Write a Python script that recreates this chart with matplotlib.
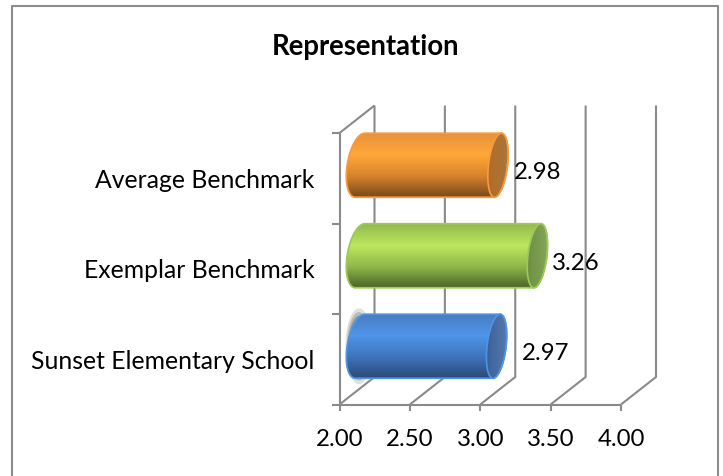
import numpy as np
import matplotlib
matplotlib.use("Agg")
import matplotlib.pyplot as plt
from matplotlib.colors import LinearSegmentedColormap
from matplotlib.patches import PathPatch, Ellipse
from matplotlib.path import Path
from matplotlib.lines import Line2D

categories = ["Sunset Elementary School", "Exemplar Benchmark", "Average Benchmark"]
values = [2.97, 3.26, 2.98]
x_ticks = [2.0, 2.5, 3.0, 3.5, 4.0]
y_edges = [-0.5, 0.5, 1.5, 2.5]
title = "Representation"
label_offsets_px = [(46, 6), (35.5, 5), (36.5, 6)]
gradients = [
    ["#4a7cc0", "#4f95ea", "#3f75bd", "#2b4a78"],
    ["#93bb4e", "#bce75e", "#8fb84a", "#4a6427"],
    ["#e8913a", "#ffa838", "#d9842c", "#7a4a1c"],
]
edge_colors = ["#4f95e0", "#9bcb55", "#f79a40"]
cap_colors = [["#365f98", "#5a7cb0"], ["#6a8c40", "#87a85a"], ["#b56a22", "#a87840"]]

W, H = 723, 476
FS = 17.3
CAT_FS = 17.8
TITLE_FS = 19.8
plt.rcParams["font.family"] = ["Lato", "DejaVu Sans"]
fig = plt.figure(figsize=(W / 100, H / 100), dpi=100)
L, R, T, B = 339.5, 621.0, 133.0, 404.5
ax = fig.add_axes([L / W, 1 - B / H, (R - L) / W, (B - T) / H])
ax.set_xlim(2, 4)
ax.set_ylim(-0.5, 2.5)
px_x = (R - L) / 2.0
px_y = (B - T) / 3.0
depth_x, depth_y = 35 / px_x, 27.5 / px_y
GRID = "#8a8a8a"


def wall(xs, ys):
    ax.plot(xs, ys, color=GRID, lw=1.5, clip_on=False, zorder=1, solid_capstyle="butt")


for t in x_ticks:
    wall([t, t + depth_x, t + depth_x], [-0.5, -0.5 + depth_y, 2.5 + depth_y])
wall([2, 2 + depth_x], [2.5, 2.5 + depth_y])
wall([2, 4], [-0.5, -0.5])
wall([2, 2], [-0.5, 2.5])

ax.set_xticks(x_ticks, [f"{t:.2f}" for t in x_ticks], fontsize=FS)
ax.set_yticks(y_edges, [""] * len(y_edges))
ax.set_yticks(range(3), categories, minor=True, fontsize=CAT_FS)
ax.tick_params(axis="x", color=GRID, width=1.5, length=4.3, pad=13)
ax.tick_params(axis="y", which="major", color=GRID, width=1.5, length=6)
ax.tick_params(axis="y", which="minor", length=0, pad=18)
for s in ax.spines.values():
    s.set_visible(False)
ax.patch.set_visible(False)

bar_dx, bar_dy = 20.5 / px_x, 13 / px_y
half_h = 32 / px_y
rx, skew = 9.5 / px_x, 3.5 / px_x


def ellipse_points(cx, cy, t):
    return cx + rx * np.cos(t) + skew * np.sin(t), cy + half_h * np.sin(t)


for i, (cat, val) in enumerate(zip(categories, values)):
    cy = i + bar_dy
    x0 = 2 + bar_dx
    x1 = val + bar_dx
    if i == 0:
        for k, a in zip([1.0, 0.9, 0.8], [0.2, 0.3, 0.4]):
            ax.add_patch(Ellipse((x0 - 1 / px_x, cy), 2 * 13.5 * k / px_x, 2 * 38 * k / px_y,
                                 fc="#666666", ec="none", alpha=a, zorder=2))
    t_left = np.linspace(np.pi / 2, 3 * np.pi / 2, 40)
    t_right = np.linspace(-np.pi / 2, np.pi / 2, 40)
    lx, ly = ellipse_points(x0, cy, t_left)
    lx = x0 + (lx - x0) * 1.35
    rxs, rys = ellipse_points(x1, cy, t_right)
    xs = np.r_[lx, rxs, lx[0]]
    ys = np.r_[ly, rys, ly[0]]
    outline = Path(np.c_[xs, ys])
    body = PathPatch(outline, fc="none", ec=edge_colors[i], lw=1.3, zorder=4, clip_on=False)
    fill = PathPatch(outline, fc="none", ec="none")
    ax.add_patch(fill)
    cmap = LinearSegmentedColormap.from_list(f"b{i}", gradients[i])
    grad = np.linspace(0, 1, 128).reshape(-1, 1)
    im = ax.imshow(grad, cmap=cmap, aspect="auto", zorder=3,
                   extent=[x0 - 0.15, x1 + 0.15, cy - half_h, cy + half_h],
                   interpolation="bilinear")
    im.set_clip_path(fill)
    ax.add_patch(body)
    t = np.linspace(0, 2 * np.pi, 80)
    ex, ey = ellipse_points(x1, cy, t)
    capfill = PathPatch(Path(np.c_[ex, ey]), fc="none", ec="none")
    ax.add_patch(capfill)
    capmap = LinearSegmentedColormap.from_list(f"c{i}", cap_colors[i])
    capgrad = np.linspace(0, 1, 64).reshape(1, -1)
    cim = ax.imshow(capgrad, cmap=capmap, aspect="auto", zorder=5,
                    extent=[x1 - rx - skew, x1 + rx + skew, cy - half_h, cy + half_h],
                    interpolation="bilinear")
    cim.set_clip_path(capfill)
    ax.plot(ex, ey, color=edge_colors[i], lw=1.2, zorder=6, clip_on=False)
    ax.annotate(f"{val:.2f}", (val, i),
                xytext=(label_offsets_px[i][0] * 0.72, label_offsets_px[i][1] * 0.72),
                textcoords="offset points", ha="left", va="center", fontsize=FS, zorder=7,
                annotation_clip=False)

ax.set_xlim(2, 4)
ax.set_ylim(-0.5, 2.5)
fig.text(365 / W, 1 - 47 / H, title, ha="center", va="center", fontsize=TITLE_FS, fontweight="bold")
border_x = [11.5 / W, 11.5 / W, 718 / W, 718 / W]
border_y = [0, 1 - 5.5 / H, 1 - 5.5 / H, 0]
fig.add_artist(Line2D(border_x, border_y, transform=fig.transFigure, color="#8c8c8c", lw=1.5))
fig.savefig("out.png", dpi=100)
